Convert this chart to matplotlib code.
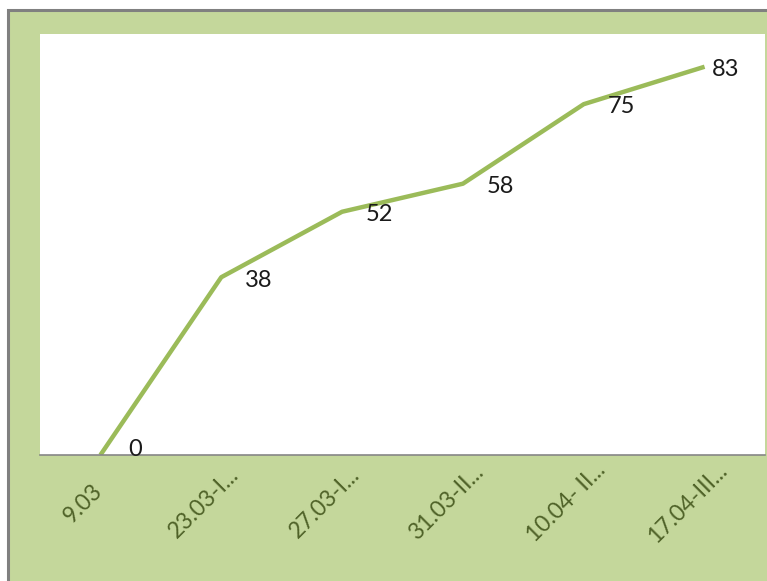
import matplotlib.pyplot as plt
from matplotlib.patches import Rectangle
from matplotlib.transforms import ScaledTranslation

# data
categories = ['9.03', '23.03-I...', '27.03-I...', '31.03-II...', '10.04- II...', '17.04-III...']
values = [0, 38, 52, 58, 75, 83]

green_bg = '#C4D79B'
line_col = '#9BBB59'
tick_col = '#4F6228'

plt.rcParams['font.family'] = ['Lato', 'DejaVu Sans']

W, H = 767, 581
fig = plt.figure(figsize=(W / 100, H / 100), dpi=100, facecolor='white')

# green chart area with grey outline on top/left
fig.patches.append(Rectangle((8 / W, -0.1), 1.2, 1 - 10 / H + 0.1,
                             transform=fig.transFigure, facecolor=green_bg,
                             edgecolor='#808080', linewidth=2.2, zorder=-5))

ax = fig.add_axes([40 / W, 1 - 455 / H, (765 - 40) / W, (455 - 34) / H])
ax.set_zorder(2)
ax.set_facecolor('white')

x = list(range(len(categories)))
ax.plot(x, values, color=line_col, linewidth=3.2, solid_capstyle='butt')

# label offsets (points); first and last are pushed inside the plot area
for i, (xi, v) in enumerate(zip(x, values)):
    dx, dy = 17, -2
    if i == 0:
        dx, dy = 20, 4
    elif i == len(values) - 1:
        dx = 5
    ax.annotate(str(v), (xi, v), xytext=(dx, dy), textcoords='offset points',
                ha='left', va='center', fontsize=17, color='#1a1a1a')

ax.set_xlim(-0.5, len(categories) - 0.5)
ax.set_ylim(0, 90)
ax.set_yticks([])
ax.set_xticks(x)
ax.set_xticklabels(categories, rotation=45, ha='center', va='center',
                   rotation_mode='anchor', fontsize=16.5, color=tick_col)
ax.tick_params(axis='x', length=0, pad=0)
offset = ScaledTranslation(-17 / 100, -48 / 100, fig.dpi_scale_trans)
for lbl in ax.get_xticklabels():
    lbl.set_transform(lbl.get_transform() + offset)

for side in ['top', 'right', 'left']:
    ax.spines[side].set_visible(False)
ax.spines['bottom'].set_color('#868686')
ax.spines['bottom'].set_linewidth(1.2)

fig.savefig('out.png', dpi=100, facecolor=fig.get_facecolor())
